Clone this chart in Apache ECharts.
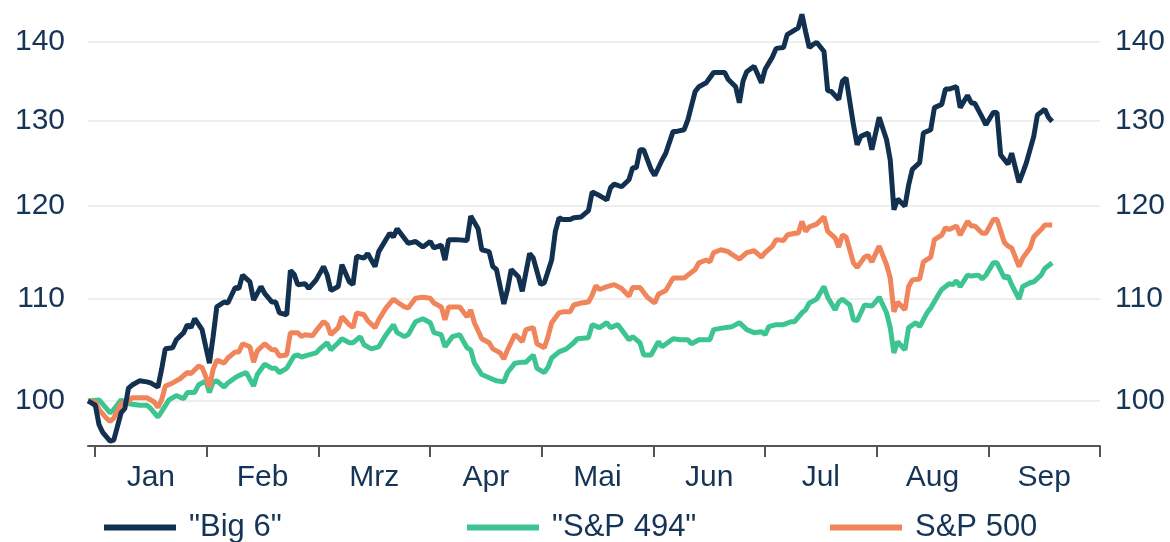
<!DOCTYPE html>
<html>
<head>
<meta charset="utf-8">
<script src="https://cdn.jsdelivr.net/npm/echarts@6/dist/echarts.min.js"></script>
<style>
  html, body { margin: 0; padding: 0; background: #fff; }
  #main { width: 1170px; height: 542px; }
</style>
</head>
<body>
<div id="main"></div>
<script>
// month labels under the axis and the ticks of the (log) value axes
const months = ["Jan", "Feb", "Mrz", "Apr", "Mai", "Jun", "Jul", "Aug", "Sep"];
const yTicks = [100, 110, 120, 130, 140];

// "Big 6", indexed to 100
const bigDates = [
  "2022-12-30","2023-01-01","2023-01-02","2023-01-03","2023-01-05","2023-01-06","2023-01-08","2023-01-09","2023-01-10","2023-01-11",
  "2023-01-13","2023-01-15","2023-01-16","2023-01-18","2023-01-19","2023-01-20","2023-01-22","2023-01-23","2023-01-25","2023-01-26",
  "2023-01-27","2023-01-28","2023-01-30","2023-01-31","2023-02-01","2023-02-02","2023-02-03","2023-02-05","2023-02-06","2023-02-08",
  "2023-02-09","2023-02-10","2023-02-12","2023-02-13","2023-02-15","2023-02-16","2023-02-18","2023-02-19","2023-02-20","2023-02-22",
  "2023-02-23","2023-02-24","2023-02-25","2023-02-27","2023-02-28","2023-03-02","2023-03-04","2023-03-05","2023-03-06","2023-03-08",
  "2023-03-09","2023-03-11","2023-03-12","2023-03-13","2023-03-15","2023-03-16","2023-03-18","2023-03-19","2023-03-22","2023-03-23",
  "2023-03-24","2023-03-27","2023-03-29","2023-03-31","2023-04-02","2023-04-03","2023-04-05","2023-04-06","2023-04-07","2023-04-09",
  "2023-04-12","2023-04-13","2023-04-15","2023-04-16","2023-04-18","2023-04-19","2023-04-20","2023-04-22","2023-04-23","2023-04-24",
  "2023-04-26","2023-04-27","2023-04-29","2023-04-30","2023-05-02","2023-05-03","2023-05-05","2023-05-06","2023-05-07","2023-05-08",
  "2023-05-10","2023-05-11","2023-05-13","2023-05-15","2023-05-16","2023-05-18","2023-05-20","2023-05-21","2023-05-22","2023-05-24",
  "2023-05-26","2023-05-27","2023-05-28","2023-05-29","2023-05-30","2023-06-01","2023-06-02","2023-06-04","2023-06-05","2023-06-07",
  "2023-06-08","2023-06-10","2023-06-11","2023-06-13","2023-06-14","2023-06-16","2023-06-18","2023-06-21","2023-06-22","2023-06-24",
  "2023-06-25","2023-06-26","2023-06-27","2023-06-29","2023-07-01","2023-07-02","2023-07-04","2023-07-05","2023-07-07","2023-07-08",
  "2023-07-09","2023-07-11","2023-07-12","2023-07-13","2023-07-14","2023-07-15","2023-07-16","2023-07-18","2023-07-19","2023-07-20",
  "2023-07-22","2023-07-23","2023-07-24","2023-07-26","2023-07-27","2023-07-28","2023-07-30","2023-07-31","2023-08-02","2023-08-04",
  "2023-08-05","2023-08-06","2023-08-07","2023-08-09","2023-08-10","2023-08-11","2023-08-13","2023-08-14","2023-08-16","2023-08-17",
  "2023-08-19","2023-08-20","2023-08-21","2023-08-23","2023-08-24","2023-08-26","2023-08-27","2023-08-28","2023-08-30","2023-08-31",
  "2023-09-02","2023-09-03","2023-09-04","2023-09-06","2023-09-07","2023-09-09","2023-09-10","2023-09-11","2023-09-13","2023-09-14",
  "2023-09-16","2023-09-17","2023-09-18"
];
const bigVals = [
  100, 99.6, 97.8, 97.1, 96.3, 96.4, 98.9, 99.3, 101.2, 101.5,
  101.9, 101.8, 101.7, 101.3, 103.0, 105.0, 105.1, 105.9, 106.6, 107.4,
  107.1, 108.0, 106.9, 105.2, 103.6, 106.2, 109.2, 109.7, 109.6, 111.2,
  111.1, 112.5, 111.8, 109.9, 111.3, 110.6, 109.7, 109.7, 108.6, 108.4,
  113.0, 112.6, 111.5, 111.6, 111.1, 112.0, 113.4, 112.5, 110.9, 111.3,
  113.6, 111.8, 111.5, 114.5, 114.3, 114.8, 113.4, 115.0, 117.0, 116.6,
  117.5, 115.9, 116.1, 115.5, 116.1, 115.4, 115.7, 114.1, 116.3, 116.3,
  116.2, 118.9, 117.5, 115.2, 115.0, 113.4, 113.1, 109.5, 111.0, 113.1,
  112.3, 110.8, 114.8, 114.3, 111.5, 111.7, 114.1, 117.2, 118.7, 118.5,
  118.5, 118.7, 118.8, 119.5, 121.6, 121.2, 120.7, 122.1, 122.5, 122.2,
  123.0, 124.4, 124.4, 126.5, 126.5, 124.2, 123.5, 125.3, 126.1, 128.7,
  128.7, 128.9, 130.1, 133.6, 134.2, 134.7, 136.0, 136.0, 135.1, 134.2,
  132.2, 134.9, 136.1, 136.8, 134.7, 136.4, 138.0, 139.1, 139.2, 140.9,
  141.2, 141.8, 143.6, 141.3, 139.2, 139.6, 139.9, 138.7, 133.7, 133.6,
  132.6, 134.9, 135.3, 129.5, 127.1, 128.1, 128.5, 126.5, 130.4, 127.7,
  125.3, 119.6, 120.8, 120.0, 122.4, 124.2, 125.0, 128.5, 128.9, 131.6,
  132.0, 133.9, 133.9, 134.2, 131.6, 133.1, 132.2, 132.1, 130.4, 129.5,
  131.0, 131.0, 125.9, 124.8, 126.1, 122.7, 123.8, 125.0, 128.1, 130.7,
  131.4, 130.4, 129.9
];

// "S&P 494"
const restDates = [
  "2022-12-30","2023-01-02","2023-01-04","2023-01-05","2023-01-06","2023-01-08","2023-01-09","2023-01-11","2023-01-13","2023-01-15",
  "2023-01-16","2023-01-18","2023-01-19","2023-01-21","2023-01-23","2023-01-25","2023-01-26","2023-01-28","2023-01-29","2023-01-31",
  "2023-02-01","2023-02-02","2023-02-03","2023-02-05","2023-02-06","2023-02-08","2023-02-09","2023-02-11","2023-02-13","2023-02-14",
  "2023-02-16","2023-02-18","2023-02-19","2023-02-20","2023-02-22","2023-02-24","2023-02-25","2023-02-26","2023-02-28","2023-03-02",
  "2023-03-03","2023-03-05","2023-03-06","2023-03-08","2023-03-09","2023-03-11","2023-03-12","2023-03-14","2023-03-15","2023-03-17",
  "2023-03-19","2023-03-21","2023-03-23","2023-03-24","2023-03-26","2023-03-27","2023-03-29","2023-03-31","2023-04-02","2023-04-03",
  "2023-04-05","2023-04-06","2023-04-08","2023-04-10","2023-04-12","2023-04-13","2023-04-14","2023-04-16","2023-04-18","2023-04-20",
  "2023-04-22","2023-04-23","2023-04-25","2023-04-27","2023-04-28","2023-04-30","2023-05-01","2023-05-03","2023-05-04","2023-05-05",
  "2023-05-07","2023-05-09","2023-05-11","2023-05-12","2023-05-15","2023-05-16","2023-05-18","2023-05-20","2023-05-21","2023-05-23",
  "2023-05-24","2023-05-26","2023-05-27","2023-05-29","2023-05-30","2023-06-01","2023-06-03","2023-06-04","2023-06-07","2023-06-09",
  "2023-06-11","2023-06-12","2023-06-14","2023-06-17","2023-06-18","2023-06-21","2023-06-23","2023-06-25","2023-06-27","2023-06-29",
  "2023-07-01","2023-07-02","2023-07-03","2023-07-05","2023-07-07","2023-07-09","2023-07-10","2023-07-12","2023-07-13","2023-07-14",
  "2023-07-16","2023-07-18","2023-07-19","2023-07-21","2023-07-22","2023-07-23","2023-07-25","2023-07-26","2023-07-27","2023-07-29",
  "2023-07-31","2023-08-01","2023-08-02","2023-08-04","2023-08-05","2023-08-06","2023-08-07","2023-08-09","2023-08-10","2023-08-12",
  "2023-08-13","2023-08-15","2023-08-16","2023-08-18","2023-08-19","2023-08-21","2023-08-22","2023-08-23","2023-08-24","2023-08-26",
  "2023-08-27","2023-08-29","2023-08-30","2023-08-31","2023-09-02","2023-09-03","2023-09-05","2023-09-06","2023-09-07","2023-09-09",
  "2023-09-10","2023-09-12","2023-09-13","2023-09-15","2023-09-16","2023-09-18"
];
const restVals = [
  100, 100.1, 99.3, 98.9, 99.2, 100.1, 99.8, 99.7, 99.6, 99.6,
  99.3, 98.5, 99.0, 100.1, 100.5, 100.2, 100.8, 100.8, 101.5, 101.9,
  100.8, 101.8, 101.9, 101.3, 101.7, 102.2, 102.4, 102.7, 101.4, 102.5,
  103.5, 103.1, 103.1, 102.7, 103.1, 104.3, 104.4, 104.2, 104.4, 104.6,
  105.0, 105.6, 104.9, 105.6, 106.0, 105.6, 105.6, 106.2, 105.4, 105.0,
  105.2, 106.4, 107.4, 106.6, 106.2, 106.4, 107.7, 108.0, 107.6, 106.6,
  106.4, 105.2, 106.2, 106.4, 105.1, 104.9, 103.6, 102.5, 102.2, 101.9,
  101.8, 102.7, 103.6, 103.7, 103.7, 104.4, 103.1, 102.7, 103.2, 104.1,
  104.7, 105.0, 105.6, 106.0, 106.1, 107.4, 107.1, 107.6, 107.1, 107.4,
  106.9, 105.9, 106.2, 105.6, 104.4, 104.4, 105.7, 105.2, 106.0, 105.9,
  105.9, 105.5, 105.9, 105.9, 106.9, 107.1, 107.2, 107.6, 106.9, 106.6,
  106.7, 106.4, 107.2, 107.4, 107.4, 107.7, 107.7, 108.6, 108.9, 109.6,
  110.0, 111.3, 110.2, 108.9, 109.7, 110.0, 109.4, 107.9, 107.8, 109.4,
  109.3, 109.7, 110.2, 108.6, 107.1, 104.6, 105.7, 104.9, 107.1, 107.6,
  107.2, 108.6, 109.1, 110.4, 111.0, 111.6, 111.5, 111.9, 111.3, 112.5,
  112.4, 112.5, 112.1, 112.5, 113.8, 113.8, 112.2, 112.4, 111.5, 110.0,
  111.3, 111.7, 111.8, 112.5, 113.2, 113.8
];

// S&P 500
const spxDates = [
  "2022-12-30","2023-01-01","2023-01-02","2023-01-04","2023-01-05","2023-01-06","2023-01-08","2023-01-09","2023-01-11","2023-01-13",
  "2023-01-15","2023-01-17","2023-01-18","2023-01-19","2023-01-20","2023-01-22","2023-01-24","2023-01-26","2023-01-27","2023-01-29",
  "2023-01-30","2023-01-31","2023-02-01","2023-02-02","2023-02-03","2023-02-05","2023-02-06","2023-02-08","2023-02-09","2023-02-10",
  "2023-02-12","2023-02-13","2023-02-14","2023-02-16","2023-02-18","2023-02-19","2023-02-20","2023-02-22","2023-02-23","2023-02-25",
  "2023-02-26","2023-02-27","2023-03-01","2023-03-02","2023-03-04","2023-03-05","2023-03-06","2023-03-08","2023-03-09","2023-03-11",
  "2023-03-12","2023-03-13","2023-03-15","2023-03-16","2023-03-18","2023-03-19","2023-03-21","2023-03-23","2023-03-24","2023-03-26",
  "2023-03-27","2023-03-29","2023-03-31","2023-04-02","2023-04-03","2023-04-05","2023-04-06","2023-04-07","2023-04-10","2023-04-12",
  "2023-04-13","2023-04-14","2023-04-16","2023-04-18","2023-04-19","2023-04-21","2023-04-22","2023-04-23","2023-04-25","2023-04-26",
  "2023-04-27","2023-04-28","2023-04-30","2023-05-01","2023-05-03","2023-05-04","2023-05-05","2023-05-07","2023-05-08","2023-05-10",
  "2023-05-11","2023-05-13","2023-05-15","2023-05-16","2023-05-17","2023-05-18","2023-05-20","2023-05-22","2023-05-24","2023-05-26",
  "2023-05-27","2023-05-29","2023-05-31","2023-06-02","2023-06-03","2023-06-05","2023-06-07","2023-06-10","2023-06-11","2023-06-13",
  "2023-06-14","2023-06-16","2023-06-17","2023-06-18","2023-06-20","2023-06-22","2023-06-23","2023-06-25","2023-06-27","2023-06-29",
  "2023-07-01","2023-07-02","2023-07-04","2023-07-05","2023-07-07","2023-07-08","2023-07-10","2023-07-11","2023-07-12","2023-07-13",
  "2023-07-14","2023-07-16","2023-07-18","2023-07-19","2023-07-21","2023-07-22","2023-07-23","2023-07-24","2023-07-26","2023-07-27",
  "2023-07-29","2023-07-30","2023-07-31","2023-08-02","2023-08-04","2023-08-05","2023-08-06","2023-08-07","2023-08-09","2023-08-10",
  "2023-08-11","2023-08-13","2023-08-14","2023-08-16","2023-08-17","2023-08-19","2023-08-20","2023-08-21","2023-08-23","2023-08-24",
  "2023-08-26","2023-08-27","2023-08-28","2023-08-30","2023-08-31","2023-09-02","2023-09-03","2023-09-05","2023-09-06","2023-09-07",
  "2023-09-09","2023-09-10","2023-09-12","2023-09-13","2023-09-15","2023-09-16","2023-09-18"
];
const spxVals = [
  100, 99.9, 99.2, 98.4, 98.1, 98.4, 99.8, 99.7, 100.3, 100.3,
  100.3, 99.9, 99.4, 100.1, 101.4, 101.7, 102.1, 102.7, 102.6, 103.3,
  103.2, 102.3, 101.3, 103.0, 103.9, 103.6, 104.1, 104.7, 104.7, 105.5,
  105.2, 103.7, 104.8, 105.5, 104.9, 104.9, 104.3, 104.4, 106.6, 106.6,
  106.2, 106.4, 106.3, 106.8, 107.7, 107.4, 106.4, 107.1, 108.2, 107.4,
  107.1, 108.6, 108.4, 107.8, 107.1, 107.9, 109.1, 110.0, 109.7, 109.2,
  109.1, 110.1, 110.2, 110.1, 109.6, 109.2, 107.9, 109.2, 109.2, 108.2,
  108.9, 107.6, 106.0, 105.6, 105.0, 104.6, 104.0, 104.9, 106.4, 106.1,
  105.7, 106.9, 107.1, 105.5, 105.1, 106.2, 107.6, 108.6, 108.7, 108.7,
  109.4, 109.6, 109.7, 110.4, 111.4, 111.0, 111.3, 111.5, 111.1, 110.3,
  111.2, 111.2, 110.2, 109.6, 110.5, 110.9, 112.2, 112.2, 112.5, 113.1,
  113.8, 114.1, 113.9, 114.9, 115.2, 115.0, 114.7, 114.2, 114.9, 115.1,
  114.4, 114.9, 115.6, 116.3, 116.2, 116.8, 117.0, 117.0, 118.3, 117.2,
  117.7, 118.0, 118.8, 117.2, 116.5, 115.5, 116.8, 116.6, 113.8, 113.3,
  114.4, 114.6, 113.9, 115.6, 113.6, 112.2, 108.7, 109.7, 108.9, 111.3,
  112.0, 112.1, 113.9, 114.4, 116.3, 116.8, 117.6, 117.4, 117.8, 116.8,
  118.3, 117.8, 117.8, 117.0, 117.0, 118.5, 118.5, 116.0, 115.6, 115.4,
  113.4, 114.3, 115.4, 116.6, 117.4, 117.9, 117.9
];

const textColor = "#163455";
const fontFamily = "'Liberation Sans', Arial, sans-serif";
const axisFont = 30;
const legendFont = 31;

function pairs(dates, vals) {
  return dates.map((d, i) => [d, vals[i]]);
}

function legendFor(name, left) {
  return {
    data: [name],
    left: left,
    top: 507,
    icon: "rect",
    itemWidth: 72,
    itemHeight: 6,
    selectedMode: false,
    textStyle: { fontSize: legendFont, color: textColor, fontFamily: fontFamily, padding: [0, 0, 12, 8] },
  };
}

const chart = echarts.init(document.getElementById("main"));

const option = {
  animation: false,
  textStyle: { fontFamily: fontFamily },
  grid: [
    { left: 88, right: 70, top: 4, bottom: 96 },
    { left: 95, right: 70, top: 4, bottom: 96 },
  ],
  legend: [
    legendFor('"Big 6"', 99),
    legendFor('"S&P 494"', 462),
    legendFor("S&P 500", 825),
  ],
  xAxis: [
    {
      type: "time",
      gridIndex: 0,
      min: "2022-12-30",
      max: "2023-10-01",
      axisLine: { show: true, lineStyle: { color: "#555555", width: 2 } },
      axisTick: { show: false },
      axisLabel: { show: false },
      splitLine: { show: false },
    },
    {
      type: "category",
      gridIndex: 1,
      data: months,
      boundaryGap: true,
      axisLine: { show: false },
      axisTick: {
        show: true,
        length: 11,
        lineStyle: { color: "#555555", width: 2 },
      },
      axisLabel: { color: textColor, fontSize: axisFont, margin: 17 },
      splitLine: { show: false },
    },
  ],
  yAxis: [
    {
      type: "log",
      logBase: 10,
      gridIndex: 0,
      min: 95.87,
      max: 145,
      axisLine: { show: false },
      axisTick: { show: false, customValues: yTicks },
      axisLabel: { customValues: yTicks, color: textColor, fontSize: axisFont, margin: 23 },
      splitLine: { show: true, lineStyle: { color: "#eeeeee", width: 2 } },
    },
    {
      type: "log",
      logBase: 10,
      gridIndex: 0,
      position: "right",
      min: 95.87,
      max: 145,
      axisLine: { show: false },
      axisTick: { show: false, customValues: yTicks },
      axisLabel: { customValues: yTicks, color: textColor, fontSize: axisFont, margin: 15 },
      splitLine: { show: false },
    },
    { type: "value", gridIndex: 1, show: false },
  ],
  series: [
    {
      name: '"S&P 494"',
      type: "line",
      xAxisIndex: 0,
      yAxisIndex: 0,
      data: pairs(restDates, restVals),
      showSymbol: false,
      lineStyle: { width: 5, color: "#3cc591" },
      itemStyle: { color: "#3cc591" },
    },
    {
      name: "S&P 500",
      type: "line",
      xAxisIndex: 0,
      yAxisIndex: 0,
      data: pairs(spxDates, spxVals),
      showSymbol: false,
      lineStyle: { width: 5, color: "#f0845b" },
      itemStyle: { color: "#f0845b" },
    },
    {
      name: '"Big 6"',
      type: "line",
      xAxisIndex: 0,
      yAxisIndex: 0,
      data: pairs(bigDates, bigVals),
      showSymbol: false,
      lineStyle: { width: 5, color: "#12304f" },
      itemStyle: { color: "#12304f" },
    },
  ],
};

chart.setOption(option);
</script>
</body>
</html>
